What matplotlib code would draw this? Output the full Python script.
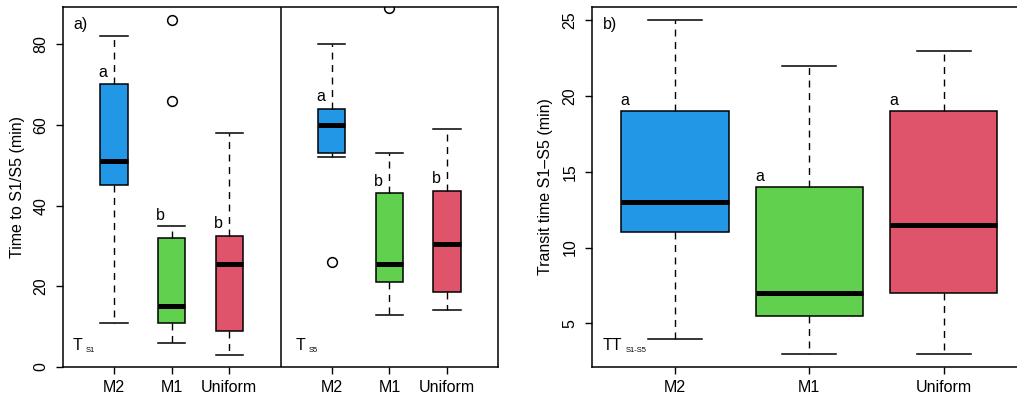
import matplotlib
matplotlib.use("Agg")
import matplotlib.pyplot as plt

plt.rcParams['font.family'] = ['Liberation Sans', 'DejaVu Sans']

# ---------------- data ----------------
groups = ["M2", "M1", "Uniform"]
colors = ["#2297E6", "#61D04F", "#DF536B"]

# Panel a) T_S1
ts1_whislo = [11, 6, 3]
ts1_q1 = [45, 11, 9]
ts1_med = [51, 15, 25.5]
ts1_q3 = [70, 32, 32.5]
ts1_whishi = [82, 35, 58]
ts1_fliers = [[], [86, 66], []]
ts1_letters = ["a", "b", "b"]
ts1_letter_y = [73, 37.5, 35.5]

# Panel a) T_S5
ts5_whislo = [52, 13, 14]
ts5_q1 = [53, 21, 18.5]
ts5_med = [60, 25.5, 30.5]
ts5_q3 = [64, 43, 43.5]
ts5_whishi = [80, 53, 59]
ts5_fliers = [[26], [89], []]
ts5_letters = ["a", "b", "b"]
ts5_letter_y = [67, 46, 46.6]

# Panel b) TT_S1-S5
tt_whislo = [4, 3, 3]
tt_q1 = [11, 5.5, 7]
tt_med = [13, 7, 11.5]
tt_q3 = [19, 14, 19]
tt_whishi = [25, 22, 23]
tt_letters = ["a", "a", "a"]
tt_letter_y = [19.7, 14.7, 19.7]

left_yticks = [0, 20, 40, 60, 80]
right_yticks = [5, 10, 15, 20, 25]

FS = 11.5
W, H = 1017, 400
fig = plt.figure(figsize=(W / 100, H / 100), dpi=100)


def stats(lo, q1, med, q3, hi, fl):
    return [dict(whislo=a, q1=b, med=c, q3=d, whishi=e, fliers=f)
            for a, b, c, d, e, f in zip(lo, q1, med, q3, hi, fl)]


def draw(ax, st, pos, width, capw):
    bp = ax.bxp(st, positions=pos, widths=width, capwidths=capw,
                patch_artist=True, manage_ticks=False,
                boxprops=dict(edgecolor='black', linewidth=1.1),
                medianprops=dict(color='black', linewidth=3.6, solid_capstyle='butt'),
                whiskerprops=dict(color='black', linewidth=1.0, linestyle=(0, (5, 4))),
                capprops=dict(color='black', linewidth=1.1),
                flierprops=dict(marker='o', markerfacecolor='none',
                                markeredgecolor='black', markersize=7,
                                markeredgewidth=1.1))
    for patch, c in zip(bp['boxes'], colors * 2):
        patch.set_facecolor(c)
    return bp


def style_axis(ax, pad_y):
    for s in ax.spines.values():
        s.set_linewidth(1.1)
    ax.tick_params(direction='out', length=5, width=1.0, labelsize=FS)
    ax.tick_params(axis='x', pad=4)
    ax.tick_params(axis='y', pad=pad_y)
    for lab in ax.get_yticklabels():
        lab.set_rotation(90)
        lab.set_ha('center')
        lab.set_va('center')


# ---------------- panel a ----------------
axL = fig.add_axes([63 / W, 33 / H, 435 / W, 360 / H])
posL = [1, 2, 3, 4.79, 5.79, 6.79]
stL = stats(ts1_whislo, ts1_q1, ts1_med, ts1_q3, ts1_whishi, ts1_fliers) + \
      stats(ts5_whislo, ts5_q1, ts5_med, ts5_q3, ts5_whishi, ts5_fliers)
draw(axL, stL, posL, 0.47, 0.47)
axL.set_xlim(0.113, 7.677)
axL.set_ylim(0, 89.2)
axL.axvline((posL[2] + posL[3]) / 2, color='black', linewidth=1.1)
axL.set_xticks(posL)
axL.set_xticklabels(groups * 2)
axL.set_yticks(left_yticks)
axL.set_ylabel("Time to S1/S5 (min)", fontsize=FS)
axL.yaxis.set_label_coords(-0.088, 0.5)
style_axis(axL, 11)
for p, l, y in zip(posL, ts1_letters + ts5_letters, ts1_letter_y + ts5_letter_y):
    axL.text(p - 0.19, y, l, ha='center', va='center', fontsize=FS)
axL.text(0.023, 0.95, "a)", transform=axL.transAxes, ha='left', va='center', fontsize=FS)
axL.text(0.023, 0.06, "T", transform=axL.transAxes, ha='left', va='center', fontsize=FS)
axL.text(0.053, 0.045, "S1", transform=axL.transAxes, ha='left', va='center', fontsize=5.5)
axL.text(0.535, 0.06, "T", transform=axL.transAxes, ha='left', va='center', fontsize=FS)
axL.text(0.565, 0.045, "S5", transform=axL.transAxes, ha='left', va='center', fontsize=5.5)

# ---------------- panel b ----------------
axR = fig.add_axes([591.7 / W, 33 / H, 435.3 / W, 360 / H])
posR = [1, 2, 3]
stR = stats(tt_whislo, tt_q1, tt_med, tt_q3, tt_whishi, [[], [], []])
draw(axR, stR, posR, 0.8, 0.4)
axR.set_xlim(0.38, 3.62)
axR.set_ylim(2.12, 25.88)
axR.set_xticks(posR)
axR.set_xticklabels(groups)
axR.set_yticks(right_yticks)
axR.set_ylabel("Transit time S1\u2013S5 (min)", fontsize=FS)
axR.yaxis.set_label_coords(-0.088, 0.5)
style_axis(axR, 10.5)
for p, l, y in zip(posR, tt_letters, tt_letter_y):
    axR.text(p - 0.37, y, l, ha='center', va='center', fontsize=FS)
axR.text(0.025, 0.95, "b)", transform=axR.transAxes, ha='left', va='center', fontsize=FS)
axR.text(0.026, 0.06, "TT", transform=axR.transAxes, ha='left', va='center', fontsize=FS)
axR.text(0.077, 0.045, "S1-S5", transform=axR.transAxes, ha='left', va='center', fontsize=5.5)

fig.savefig("out.png", dpi=100)
